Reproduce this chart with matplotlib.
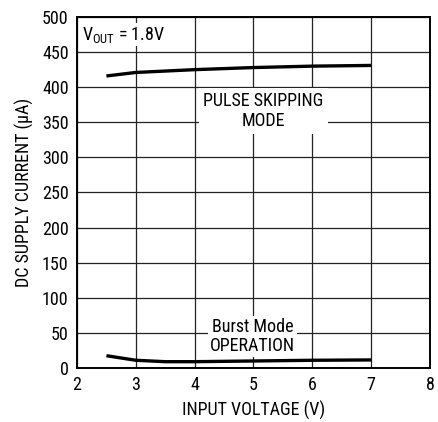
import matplotlib
matplotlib.use("Agg")
import matplotlib.pyplot as plt
from matplotlib import font_manager

names = {f.name for f in font_manager.fontManager.ttflist}
fams = [n for n in ["Roboto Condensed", "Archivo Narrow", "Liberation Sans"] if n in names]
plt.rcParams['font.family'] = fams + ['DejaVu Sans']
plt.rcParams['mathtext.fontset'] = 'custom'
plt.rcParams['mathtext.rm'] = fams[0] if fams else 'DejaVu Sans'

# Data
vin_pulse = [2.5, 3.0, 3.5, 4.0, 5.0, 6.0, 7.0]
i_pulse = [416, 421, 423, 425, 428, 430, 431]
vin_burst = [2.5, 3.0, 3.5, 4.0, 5.0, 6.0, 7.0]
i_burst = [17.5, 11, 9, 9, 10, 11, 11.5]

xticks = [2, 3, 4, 5, 6, 7, 8]
yticks = list(range(0, 501, 50))

fig = plt.figure(figsize=(4.38, 4.22), dpi=100)
ax = fig.add_axes([77/438, 1-368/422, (430-77)/438, (368-17)/422])

ax.plot(vin_pulse, i_pulse, color='black', lw=2.4, solid_capstyle='butt', zorder=3)
ax.plot(vin_burst, i_burst, color='black', lw=2.4, solid_capstyle='butt', zorder=3)

ax.set_xlim(2, 8)
ax.set_ylim(0, 500)
ax.set_xticks(xticks)
ax.set_yticks(yticks)
ax.grid(True, color='#222222', lw=0.9)
ax.set_axisbelow(True)
ax.tick_params(length=0, labelsize=13, pad=6)
for s in ax.spines.values():
    s.set_linewidth(1.4)
    s.set_color('black')

ax.set_xlabel("INPUT VOLTAGE (V)", fontsize=13, labelpad=5)
ax.set_ylabel("DC SUPPLY CURRENT (\u00b5A)", fontsize=13, labelpad=6)

ax.text(2.08, 475, r"V$_{\mathregular{OUT}}$ = 1.8V", fontsize=13, ha='left', va='center',
        bbox=dict(facecolor='white', edgecolor='none', pad=1), zorder=4)
ax.text(5.17, 366, "PULSE SKIPPING\nMODE", fontsize=13, ha='center', va='center',
        linespacing=1.1, bbox=dict(facecolor='white', edgecolor='none', pad=3), zorder=4)
ax.text(4.98, 45, "Burst Mode\nOPERATION", fontsize=13, ha='center', va='center',
        linespacing=1.1, bbox=dict(facecolor='white', edgecolor='none', pad=1.5), zorder=4)

fig.savefig("out.png", dpi=100)
